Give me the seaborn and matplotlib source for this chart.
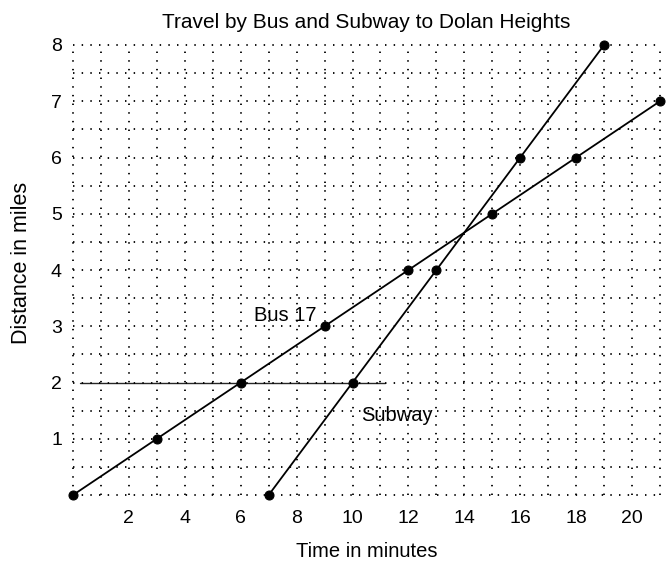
import numpy as np
import pandas as pd
import seaborn as sns
import matplotlib.pyplot as plt

# data
bus_minutes = [0, 3, 6, 9, 12, 15, 18, 21]
bus_miles = [0, 1, 2, 3, 4, 5, 6, 7]
subway_minutes = [7, 10, 13, 16, 19]
subway_miles = [0, 2, 4, 6, 8]
x_ticks = [2, 4, 6, 8, 10, 12, 14, 16, 18, 20]
y_ticks = [1, 2, 3, 4, 5, 6, 7, 8]

df = pd.concat([
    pd.DataFrame({'minutes': bus_minutes, 'miles': bus_miles, 'route': 'Bus 17'}),
    pd.DataFrame({'minutes': subway_minutes, 'miles': subway_miles, 'route': 'Subway'}),
])

sns.set_style('white')
plt.rcParams['font.family'] = ['Liberation Sans', 'DejaVu Sans']
plt.rcParams['text.color'] = 'black'
plt.rcParams['axes.labelcolor'] = 'black'

fig = plt.figure(figsize=(6.71, 5.61), dpi=100)
ax = fig.add_axes([0.1088, 0.1176, 0.8748, 0.8022])

# dotted grid: every minute, every half mile
dots = dict(color='black', linestyle=(0, (0.8, 4)), linewidth=1.3, zorder=0, clip_on=False)
for xv in np.arange(0, 22, 1):
    ax.axvline(xv, **dots)
for yv in np.arange(0, 8.5, 0.5):
    ax.axhline(yv, **dots)

sns.lineplot(data=df, x='minutes', y='miles', units='route', estimator=None,
             color='black', linewidth=1.3, marker='o', markersize=6.5,
             markeredgecolor='black', ax=ax, legend=False, zorder=3)
for line in ax.lines[-2:]:
    line.set_clip_on(False)

# hand-drawn line at 2 miles
ax.plot([0.25, 11.15], [2, 2], color='black', linewidth=1.0, alpha=0.85, zorder=2)

ax.set_xlim(0, 21)
ax.set_ylim(0, 8)
ax.set_xticks(x_ticks)
ax.set_yticks(y_ticks)
ax.tick_params(axis='x', length=0, labelsize=14, pad=11, colors='black')
ax.tick_params(axis='y', length=0, labelsize=14, pad=8, colors='black')
for s in ax.spines.values():
    s.set_visible(False)

ax.text(7.6, 3.2, 'Bus 17', fontsize=14.5, ha='center', va='center', color='black')
ax.text(11.6, 1.42, 'Subway', fontsize=14.5, ha='center', va='center', color='black')

ax.set_title('Travel by Bus and Subway to Dolan Heights', fontsize=15, pad=12, color='black')
ax.set_xlabel('Time in minutes', fontsize=14.5)
ax.set_ylabel('Distance in miles', fontsize=15.5)
ax.xaxis.set_label_coords(0.5, -0.105)
ax.yaxis.set_label_coords(-0.07, 0.515)

fig.savefig('out.png', dpi=100)
